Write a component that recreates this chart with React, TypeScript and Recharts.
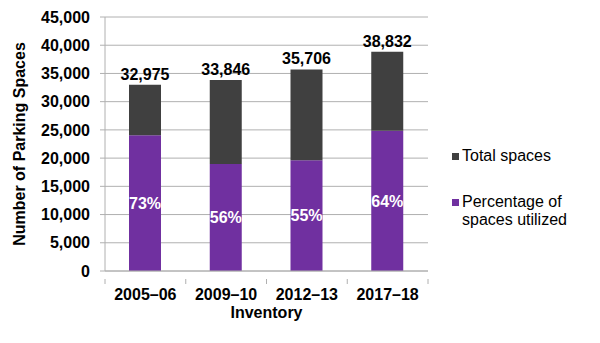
import React from "react";
import { BarChart, Bar, XAxis, YAxis, CartesianGrid, LabelList, Legend } from "recharts";

const categories = ["2005–06", "2009–10", "2012–13", "2017–18"];
const totalSpaces = [32975, 33846, 35706, 38832];
const utilizedSpaces = [24072, 18954, 19638, 24852];
const utilizedPct = ["73%", "56%", "55%", "64%"];
const yTicks = [0, 5000, 10000, 15000, 20000, 25000, 30000, 35000, 40000, 45000];

const data = categories.map((c, i) => ({
  name: c,
  utilized: utilizedSpaces[i],
  remaining: totalSpaces[i] - utilizedSpaces[i],
  total: totalSpaces[i],
  pct: utilizedPct[i],
}));

const FONT = "'Liberation Sans', Arial, sans-serif";
const PURPLE = "#7030a0";
const DARK = "#404040";
const GRID = "#b0b0b0";

const W = 600;
const H = 343;
const M = { top: 17, right: 172, bottom: 0, left: 0 };
const Y_W = 105;

const XTick = (props: any) => {
  const { x, y, payload, index } = props;
  const plotW = W - M.right - M.left - Y_W;
  const band = plotW / categories.length;
  const left = x - band / 2;
  const right = x + band / 2;
  return (
    <g>
      <line x1={left} x2={left} y1={y} y2={y + 5} stroke={GRID} />
      {index === categories.length - 1 && (
        <line x1={right} x2={right} y1={y} y2={y + 5} stroke={GRID} />
      )}
      <text x={x} y={y + 21} textAnchor="middle" fontFamily={FONT} fontSize={16} fontWeight="bold" fill="#000">
        {payload.value}
      </text>
    </g>
  );
};

const LegendContent = () => (
  <div style={{ fontFamily: FONT, fontSize: 16, color: "#000", lineHeight: "18px", textAlign: "left" }}>
    <div style={{ display: "flex", alignItems: "flex-start", marginBottom: 28 }}>
      <span style={{ width: 7, height: 7, background: DARK, marginTop: 6, marginRight: 3, flex: "none" }} />
      <span>Total spaces</span>
    </div>
    <div style={{ display: "flex", alignItems: "flex-start" }}>
      <span style={{ width: 7, height: 7, background: PURPLE, marginTop: 6, marginRight: 3, flex: "none" }} />
      <span>
        Percentage of
        <br />
        spaces utilized
      </span>
    </div>
  </div>
);

export default function App() {
  return (
    <div style={{ position: "absolute", left: 0, top: 0, width: W, height: H, background: "#fff" }}>
      <BarChart width={W} height={H} data={data} margin={M} barSize={32}>
        <CartesianGrid vertical={false} stroke={GRID} />
        <XAxis
          dataKey="name"
          height={72}
          axisLine={{ stroke: GRID }}
          tickLine={false}
          interval={0}
          tick={<XTick />}
          label={{
            value: "Inventory",
            position: "insideBottom",
            offset: 25,
            style: { fontFamily: FONT, fontSize: 16, fontWeight: "bold", fill: "#000" },
          }}
        />
        <YAxis
          width={Y_W}
          domain={[0, 45000]}
          ticks={yTicks}
          interval={0}
          axisLine={{ stroke: GRID }}
          tickLine={{ stroke: GRID }}
          tickSize={5}
          tickMargin={10}
          tickFormatter={(v: number) => v.toLocaleString("en-US")}
          tick={{ fontFamily: FONT, fontSize: 16, fontWeight: "bold", fill: "#000" }}
          label={{
            value: "Number of Parking Spaces",
            angle: -90,
            position: "insideLeft",
            offset: 19,
            style: { textAnchor: "middle", fontFamily: FONT, fontSize: 16, fontWeight: "bold", fill: "#000" },
          }}
        />
        <Legend
          content={<LegendContent />}
          layout="horizontal"
          align="center"
          verticalAlign="middle"
          wrapperStyle={{ left: 452, top: 147, width: 148 }}
        />
        <Bar dataKey="utilized" stackId="a" fill={PURPLE} name="Percentage of spaces utilized" isAnimationActive={false}>
          <LabelList
            dataKey="pct"
            position="center"
            style={{ fontFamily: FONT, fontSize: 16, fontWeight: "bold", fill: "#fff" }}
          />
        </Bar>
        <Bar dataKey="remaining" stackId="a" fill={DARK} name="Total spaces" isAnimationActive={false}>
          <LabelList
            dataKey="total"
            position="top"
            offset={5}
            formatter={(v: any) => Number(v).toLocaleString("en-US")}
            style={{ fontFamily: FONT, fontSize: 16, fontWeight: "bold", fill: "#000" }}
          />
        </Bar>
      </BarChart>
    </div>
  );
}
